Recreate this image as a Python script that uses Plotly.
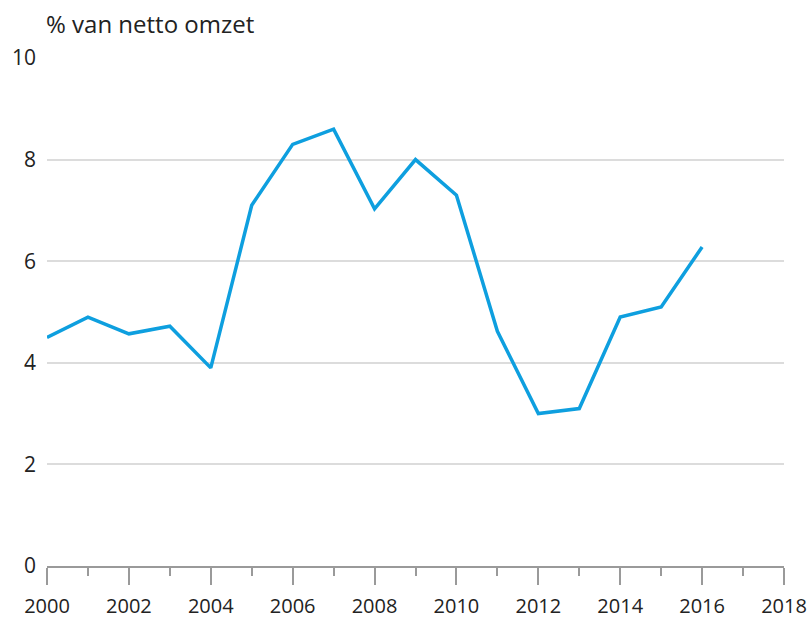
import plotly.graph_objects as go

years = list(range(2000, 2017))
values = [4.5, 4.9, 4.57, 4.72, 3.9, 7.1, 8.3, 8.6, 7.03, 8.0, 7.3, 4.62, 3.0, 3.1, 4.9, 5.1, 6.28]
x_ticks = list(range(2000, 2019, 2))
y_ticks = [0, 2, 4, 6, 8, 10]
y_title = "% van netto omzet"

FONT = "Open Sans"

fig = go.Figure()
fig.add_trace(go.Scatter(
    x=years, y=values, mode="lines",
    line=dict(color="#0e9fdf", width=3.5),
    hoverinfo="skip", showlegend=False,
))

fig.update_layout(
    width=812, height=619,
    margin=dict(l=47, r=28, t=58, b=53, autoexpand=False),
    paper_bgcolor="white", plot_bgcolor="white",
    font=dict(family=FONT, color="#222222", size=21),
    annotations=[dict(
        text=y_title, xref="paper", yref="paper", x=0, y=1,
        xanchor="left", yanchor="bottom", yshift=16, xshift=-3, showarrow=False,
        font=dict(family=FONT, size=24, color="#222222"),
    )],
)

fig.update_xaxes(
    range=[2000, 2018], tickvals=x_ticks, ticktext=[str(v) for v in x_ticks],
    showgrid=False, zeroline=False, automargin=False,
    showline=True, linecolor="#9a9a9a", linewidth=1.5,
    ticks="outside", ticklen=17, tickwidth=1.5, tickcolor="#9a9a9a",
    ticklabelstandoff=4,
    minor=dict(dtick=1, tick0=2000, ticks="outside", ticklen=8, tickwidth=1.5, tickcolor="#9a9a9a"),
    tickfont=dict(size=20),
)
fig.update_yaxes(
    range=[0, 10], tickvals=y_ticks, automargin=False,
    showgrid=True, gridcolor="#dcdcdc", gridwidth=1.5,
    zeroline=False, showline=False, ticks="",
    ticklabelstandoff=10,
    tickfont=dict(size=21),
)

fig.write_html(
    "out.html",
    config={"displayModeBar": False},
    post_script="document.body.style.margin='0';document.body.style.overflow='hidden';",
)
